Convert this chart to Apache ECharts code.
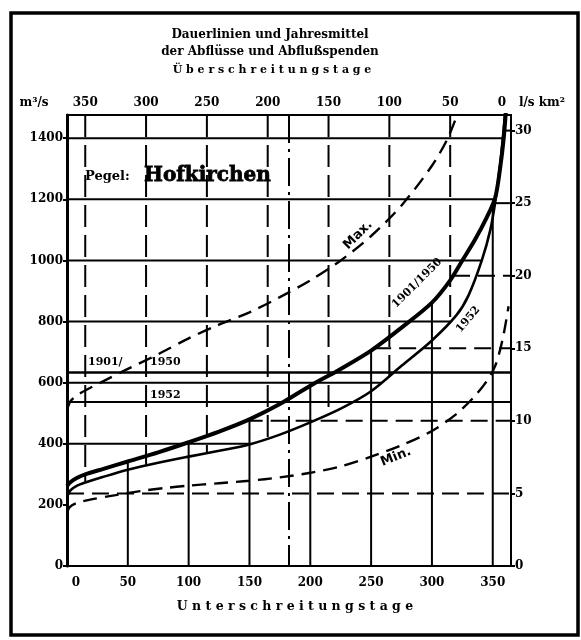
<!DOCTYPE html>
<html>
<head>
<meta charset="utf-8">
<script src="https://cdn.jsdelivr.net/npm/echarts@6/dist/echarts.min.js"></script>
<style>
  html, body { margin: 0; padding: 0; background: #fff; }
  #chart { width: 581px; height: 640px; }
</style>
</head>
<body>
<div id="chart"></div>
<script>
// ---- Data: Pegel Hofkirchen, Dauerlinien der Abflüsse (m³/s) ----
const yearDays = 365;
const medianDay = 182.5;
const spendeFactor = 47.5;            // m³/s je 1 l/s km² (Einzugsgebiet ≈ 47 500 km²)
const mean19011950 = 633;            // Jahresmittel 1901/1950
const mean1952 = 537;                // Jahresmittel 1952

const underrunTicks = [0, 50, 100, 150, 200, 250, 300, 350];
const exceedanceTicks = [0, 50, 100, 150, 200, 250, 300, 350];
const dischargeTicks = [0, 200, 400, 600, 800, 1000, 1200, 1400];
const spendeTicks = [0, 5, 10, 15, 20, 25, 30];

const underrunGridDays = [50, 100, 150, 200, 250, 300, 350];
const exceedanceGridDays = [50, 100, 150, 200, 250, 300, 350];
const dischargeGrid = [200, 400, 600, 800, 1000, 1200, 1400];
const spendeGrid = [5, 10, 15, 20, 25, 30];

// [Unterschreitungstage, Abfluss m³/s]
const duration19011950 = [
  [0, 262], [3, 275], [8, 288], [15, 300], [30, 318], [50, 342], [75, 372],
  [100, 405], [125, 440], [150, 480], [175, 530], [200, 590], [225, 645],
  [250, 705], [275, 780], [300, 862], [315, 935], [325, 1000], [335, 1065],
  [345, 1140], [352, 1205], [356, 1300], [359, 1400], [361, 1500]
];
const duration1952 = [
  [0, 225], [3, 248], [8, 262], [15, 273], [30, 292], [50, 315], [75, 338],
  [100, 358], [125, 377], [150, 398], [175, 430], [200, 470], [225, 515],
  [250, 572], [275, 655], [300, 738], [320, 820], [330, 885], [341, 1000],
  [348, 1100], [352, 1190], [356, 1310], [359, 1430], [360.5, 1500]
];
const durationMax = [
  [0, 510], [3, 540], [10, 563], [20, 585], [30, 605], [50, 645], [75, 693],
  [100, 745], [125, 790], [150, 830], [175, 880], [200, 935], [225, 1000],
  [250, 1080], [275, 1180], [300, 1310], [313, 1400], [323, 1500]
];
const durationMin = [
  [0, 172], [2, 192], [8, 206], [20, 218], [40, 232], [60, 245], [80, 255],
  [100, 263], [125, 271], [150, 279], [175, 290], [200, 305], [225, 326],
  [250, 358], [275, 395], [300, 442], [320, 497], [335, 555], [345, 605],
  [352, 655], [358, 740], [363, 850]
];

// ---- Layout ----
const yMax = 1476;
const FONT = '"DejaVu Serif", "Liberation Serif", serif';
const SANS = '"DejaVu Sans", sans-serif';

function qAt(curve, day) {
  if (day <= curve[0][0]) return curve[0][1];
  for (let i = 1; i < curve.length; i++) {
    const [d0, q0] = curve[i - 1], [d1, q1] = curve[i];
    if (day <= d1) return q0 + (q1 - q0) * (day - d0) / (d1 - d0);
  }
  return curve[curve.length - 1][1];
}
function dayAt(curve, q) {
  if (q <= curve[0][1]) return curve[0][0];
  for (let i = 1; i < curve.length; i++) {
    const [d0, q0] = curve[i - 1], [d1, q1] = curve[i];
    if (q <= q1) return d0 + (d1 - d0) * (q - q0) / (q1 - q0);
  }
  return curve[curve.length - 1][0];
}

function seg(data, width, type, extra) {
  return Object.assign({
    type: 'line', data: data, symbol: 'none', silent: true, animation: false,
    lineStyle: { color: '#000', width: width, type: type, cap: 'butt' },
    xAxisIndex: 0, yAxisIndex: 0, z: 2
  }, extra || {});
}

const series = [];

// Abfluss-Gitter (links): vom linken Rand bis zur Dauerlinie 1952
dischargeGrid.forEach(v => {
  const d = dayAt(duration1952, v);
  if (d > 0.5) series.push(seg([[0, v], [d, v]], 2, 'solid'));
});
// Abflussspenden-Gitter (rechts): vom rechten Rand bis zur Dauerlinie 1901/1950
spendeGrid.forEach(v => {
  const d = dayAt(duration19011950, v * spendeFactor);
  series.push(seg([[d, v], [yearDays, v]], 2, [17, 8], { yAxisIndex: 1 }));
});
// Unterschreitungstage: von unten bis zur Dauerlinie 1901/1950
underrunGridDays.forEach(d => {
  series.push(seg([[d, 0], [d, qAt(duration19011950, d)]], 2, 'solid'));
});
// Überschreitungstage: von oben bis zur Dauerlinie 1952
exceedanceGridDays.forEach(t => {
  series.push(seg([[t, yMax], [t, qAt(duration1952, yearDays - t)]], 2, [22, 8], { xAxisIndex: 1 }));
});
// Mitteltag
series.push(seg([[medianDay, yMax], [medianDay, 0]], 2, [28, 6, 3, 6]));
// Jahresmittel
series.push(seg([[0, mean19011950], [yearDays, mean19011950]], 2.5, 'solid'));
series.push(seg([[0, mean1952], [yearDays, mean1952]], 2, 'solid'));

// Dauerlinien
series.push(seg(duration19011950, 4, 'solid', { smooth: 0.3, z: 4 }));
series.push(seg(duration1952, 2.6, 'solid', { smooth: 0.3, z: 4 }));
series.push(seg(durationMax, 2.4, [14, 8], { smooth: 0.3, z: 4 }));
series.push(seg(durationMin, 2.4, [14, 8], { smooth: 0.3, z: 4 }));

const numLabel = { color: '#000', fontFamily: FONT, fontWeight: 'bold', fontSize: 12 };

function text(str, x, y, size, opts) {
  return Object.assign({
    type: 'text', x: x, y: y, silent: true, z: 10,
    style: Object.assign({
      text: str, fill: '#000',
      font: 'bold ' + size + 'px ' + FONT,
      textAlign: 'center', textVerticalAlign: 'middle'
    }, (opts && opts.style) || {})
  }, opts && opts.rotation !== undefined ? { rotation: opts.rotation } : {});
}
const spaced = s => s.split('').join(' ');
const deg = a => a * Math.PI / 180;

const option = {
  animation: false,
  backgroundColor: '#fff',
  grid: { left: 67, top: 115, width: 444, height: 451, show: true, borderColor: '#000', borderWidth: 2, backgroundColor: 'transparent' },
  xAxis: [
    {
      type: 'value', position: 'bottom', min: 0, max: yearDays, interval: 50,
      axisLine: { show: false }, axisTick: { show: false }, splitLine: { show: false },
      axisLabel: Object.assign({}, numLabel, {
        margin: 11, showMaxLabel: false,
        formatter: v => (v === underrunTicks[0] ? '{z|' + v + '}' : String(v)),
        rich: { z: Object.assign({}, numLabel, { padding: [0, 0, 0, 18] }) }
      })
    },
    {
      type: 'value', position: 'top', inverse: true, min: 0, max: yearDays, interval: 50,
      axisLine: { show: false }, axisTick: { show: false }, splitLine: { show: false },
      axisLabel: Object.assign({}, numLabel, {
        margin: 6, showMaxLabel: false,
        formatter: v => (v === exceedanceTicks[0] ? '{z|' + v + '}' : String(v)),
        rich: { z: Object.assign({}, numLabel, { padding: [0, 18, 0, 0] }) }
      })
    }
  ],
  yAxis: [
    {
      type: 'value', position: 'left', min: 0, max: yMax, interval: 200,
      axisLine: { show: true, lineStyle: { color: '#000', width: 3 } },
      axisTick: { show: true, length: 4, customValues: dischargeTicks, lineStyle: { color: '#000', width: 2 } },
      splitLine: { show: false },
      axisLabel: Object.assign({}, numLabel, { margin: 4, showMaxLabel: false, formatter: v => String(v) })
    },
    {
      type: 'value', position: 'right', min: 0, max: yMax / spendeFactor, interval: 5,
      axisLine: { show: true, lineStyle: { color: '#000', width: 2 } },
      axisTick: { show: true, length: 4, customValues: spendeTicks, lineStyle: { color: '#000', width: 2 } },
      splitLine: { show: false },
      axisLabel: Object.assign({}, numLabel, { margin: 4, showMaxLabel: false, formatter: v => String(v) })
    }
  ],
  series: series,
  graphic: [
    { type: 'rect', silent: true, z: 1, shape: { x: 11, y: 13, width: 567, height: 622 },
      style: { fill: 'none', stroke: '#000', lineWidth: 3.5 } },
    text('Dauerlinien und Jahresmittel', 270, 35, 12),
    text('der Abflüsse und Abflußspenden', 270, 52, 12),
    text(spaced('Überschreitungstage'), 272, 70, 11),
    text('m³/s', 34, 103, 12),
    text('l/s km²', 542, 103, 12),
    text(spaced('Unterschreitungstage'), 295, 607, 12.5),
    text('Pegel:', 85, 177, 13, { style: { textAlign: 'left' } }),
    text('Hofkirchen', 144, 176, 20, { style: { textAlign: 'left', stroke: '#000', lineWidth: 0.8 } }),
    text('1901/', 88, 362, 11, { style: { textAlign: 'left' } }),
    text('1950', 150, 362, 11, { style: { textAlign: 'left' } }),
    text('1952', 150, 395, 11, { style: { textAlign: 'left' } }),
    text('Max.', 358, 235, 13, { rotation: deg(45), style: { font: 'bold 13px ' + SANS } }),
    text('Min.', 396, 457, 13, { rotation: deg(22), style: { font: 'bold 13px ' + SANS } }),
    text('1901/1950', 421, 287, 11, { rotation: deg(45), style: { textVerticalAlign: 'bottom' } }),
    text('1952', 464, 316, 11, { rotation: deg(50), style: { textVerticalAlign: 'top' } })
  ]
};

const chart = echarts.init(document.getElementById('chart'));
chart.setOption(option);
</script>
</body>
</html>
